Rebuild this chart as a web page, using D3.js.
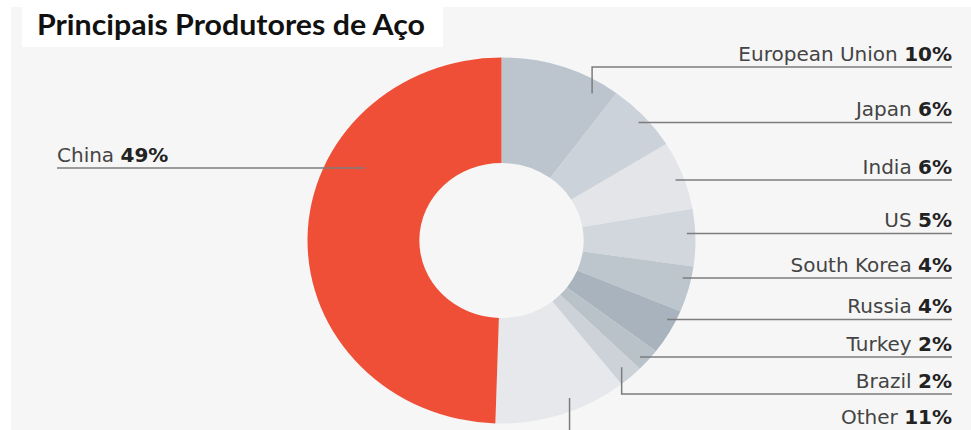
<!DOCTYPE html>
<html>
<head>
<meta charset="utf-8">
<script src="https://cdn.jsdelivr.net/npm/d3@7"></script>
<style>
  body { margin: 0; background: #fff; }
  svg { display: block; }
</style>
</head>
<body>
<div id="chart"></div>
<script>
// data (percent of world steel output)
const countries = ['European Union', 'Japan', 'India', 'US', 'South Korea', 'Russia', 'Turkey', 'Brazil', 'Other', 'China'];
const shares = [10, 6, 6, 5, 4, 4, 2, 2, 11, 49];
const sliceColors = ['#bcc5cd', '#ccd2d9', '#e3e5e9', '#d2d7dd', '#bdc5cd', '#a8b3bd', '#b9c1c9', '#cdd2d8', '#e6e8eb', '#ef4f37'];

// label layout (leader line heights), kept apart from the data
const leaderY = [67, 122.5, 180, 233.5, 278, 319.5, 357, 394, 440, 168];
const leaderKind = ['elbow', 'h', 'h', 'h', 'h', 'h', 'h', 'elbow', 'elbow', 'left'];
const elbowFrac = [0.83, 0, 0, 0, 0, 0, 0, 0.5, 0.4, 0];

const width = 971, height = 430;
const cx = 501.5, cy = 240.5;
const outerR = 183, innerR = 77.5;
const sx = 194 / 183; // the source picture is a little stretched sideways
const lineRight = 952, lineLeft = 57;

const data = countries.map((c, i) => ({name: c, share: shares[i], color: sliceColors[i], i}));

const svg = d3.select('#chart')
    .append('svg')
    .attr('width', width)
    .attr('height', height);

svg.append('rect').attr('width', width).attr('height', height).attr('fill', '#fff');
svg.append('rect').attr('x', 11).attr('y', 7).attr('width', width - 11).attr('height', height - 7).attr('fill', '#f6f6f6');
svg.append('rect').attr('x', 22).attr('y', 7).attr('width', 421).attr('height', 40).attr('fill', '#fff');

svg.append('text')
    .attr('x', 37)
    .attr('y', 35)
    .attr('font-family', 'Lato, sans-serif')
    .attr('font-weight', 700)
    .attr('font-size', 28)
    .attr('fill', '#111')
    .attr('textLength', 388)
    .attr('lengthAdjust', 'spacingAndGlyphs')
    .text('Principais Produtores de Aço');

const pie = d3.pie().sort(null).value(d => d.share);
const arcs = pie(data);

const arc = d3.arc().innerRadius(innerR).outerRadius(outerR);

const donut = svg.append('g')
    .attr('transform', `translate(${cx},${cy}) scale(${sx},1)`);

donut.selectAll('path')
    .data(arcs)
    .join('path')
    .attr('d', arc)
    .attr('fill', d => d.data.color);

// point on the (stretched) ring at angle a, radius r
const ringPoint = (a, r) => [cx + sx * r * Math.sin(a), cy - r * Math.cos(a)];

const leaders = arcs.map(d => {
    const i = d.data.i;
    const y = leaderY[i];
    const kind = leaderKind[i];
    if (kind === 'elbow') {
        const a = d.startAngle + elbowFrac[i] * (d.endAngle - d.startAngle);
        const p = ringPoint(a, 170);
        return [p, [p[0], y], [lineRight, y]];
    }
    if (kind === 'left') {
        const x0 = cx - sx * Math.sqrt(148 * 148 - (y - cy) * (y - cy));
        return [[lineLeft, y], [x0, y]];
    }
    const x0 = cx + sx * Math.sqrt(175 * 175 - (y - cy) * (y - cy));
    return [[x0, y], [lineRight, y]];
});

svg.append('g')
    .selectAll('path')
    .data(leaders)
    .join('path')
    .attr('d', d3.line())
    .attr('fill', 'none')
    .attr('stroke', '#7c7c7c')
    .attr('stroke-width', 1.5);

const labels = svg.append('g')
    .attr('font-family', '"DejaVu Sans", sans-serif')
    .attr('font-size', 20)
    .selectAll('text')
    .data(data)
    .join('text')
    .attr('x', d => leaderKind[d.i] === 'left' ? lineLeft : lineRight)
    .attr('y', d => Math.min(leaderY[d.i] - 6.5, 424))
    .attr('text-anchor', d => leaderKind[d.i] === 'left' ? 'start' : 'end')
    .attr('fill', '#444');

labels.append('tspan').text(d => d.name + ' ');
labels.append('tspan')
    .attr('font-weight', 'bold')
    .attr('fill', '#222')
    .text(d => d.share + '%');
</script>
</body>
</html>
